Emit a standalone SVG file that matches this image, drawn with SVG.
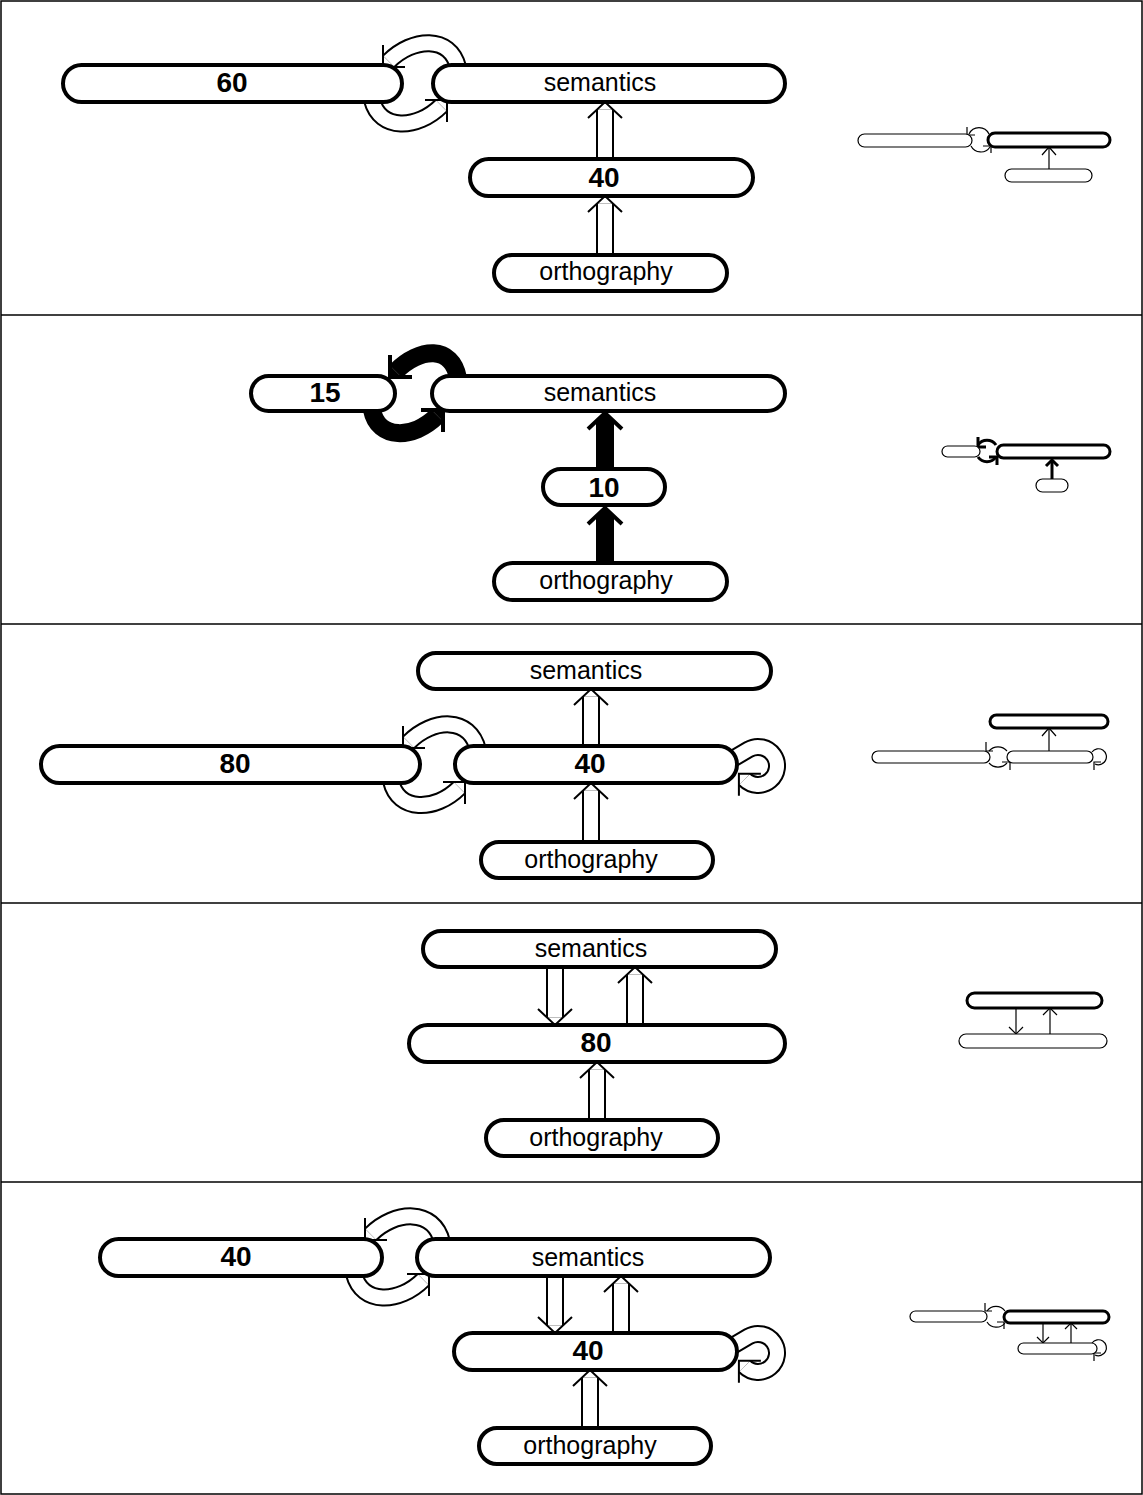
<svg xmlns="http://www.w3.org/2000/svg" width="1143" height="1495" viewBox="0 0 1143 1495">
<style>
.frame{fill:none;stroke:#000;stroke-width:1.5}
.nd{fill:#fff;stroke:#000;stroke-width:4}
.lbl{font-family:"Liberation Sans",Arial,sans-serif;font-size:25px;text-anchor:middle;fill:#000}
.num{font-family:"Liberation Sans",Arial,sans-serif;font-size:28px;font-weight:bold;text-anchor:middle;fill:#000}
.sb{fill:none;stroke:#000;stroke-width:18}
.sw{fill:none;stroke:#fff;stroke-width:14}
.hd{fill:none;stroke:#000;stroke-width:2}
.th{fill:none;stroke:#000;stroke-width:4}
.tf{fill:#000}
.t1{fill:#fff;stroke:#000;stroke-width:1.2}
.t3{fill:#fff;stroke:#000;stroke-width:3}
.tl{fill:none;stroke:#000;stroke-width:1.2}
.tl3{fill:none;stroke:#000;stroke-width:3}
</style>
<rect x="0" y="0" width="1143" height="1495" fill="#fff"/>
<g id="frame">
<rect class="frame" x="1" y="1" width="1141" height="1493"/>
<line class="frame" x1="1" y1="315" x2="1142" y2="315"/>
<line class="frame" x1="1" y1="624" x2="1142" y2="624"/>
<line class="frame" x1="1" y1="903" x2="1142" y2="903"/>
<line class="frame" x1="1" y1="1182" x2="1142" y2="1182"/>
</g>
<g id="connectors">
<!-- panel 1 -->
<g id="p1-40-sem"><path class="sb" d="M605 163V109.5"/><path class="sw" d="M605 163V109.5"/><polyline class="hd" points="588,118 605,102 622,118"/></g>
<g id="p1-orth-40"><path class="sb" d="M605 259V203.5"/><path class="sw" d="M605 259V203.5"/><polyline class="hd" points="588,212 605,196 622,212"/></g>
<g id="p1-sem-60"><path class="sb" d="M458 67C450 35 412.7 37.3 388.7 61.3"/><path class="sw" d="M458 67C450 35 412.7 37.3 388.7 61.3"/><polyline class="hd" points="383,45 383,67 405,67"/></g>
<g id="p1-60-sem"><path class="sb" d="M372 100C380 131 417.3 129.7 441.3 105.7"/><path class="sw" d="M372 100C380 131 417.3 129.7 441.3 105.7"/><polyline class="hd" points="425,100 447,100 447,122"/></g>
<!-- panel 2 -->
<g id="p2-10-sem"><path class="sb" d="M605 473V421"/><polygon class="tf" points="605,413 597,421 613,421"/><polyline class="th" points="588,429 605,413 622,429"/></g>
<g id="p2-orth-10"><path class="sb" d="M605 567V516"/><polygon class="tf" points="605,508 597,516 613,516"/><polyline class="th" points="588,524 605,508 622,524"/></g>
<g id="p2-sem-15"><path class="sb" d="M458 378C452 345 419.7 347.3 395.7 371.3"/><polygon class="tf" points="390,377 401.4,377 390,365.6"/><polyline class="th" points="390,355 390,377 412,377"/></g>
<g id="p2-15-sem"><path class="sb" d="M372 410C378 440 413.3 439.7 437.3 415.7"/><polygon class="tf" points="443,410 431.6,410 443,421.4"/><polyline class="th" points="421,410 443,410 443,432"/></g>
<!-- panel 3 -->
<g id="p3-40-sem"><path class="sb" d="M591 750V696.5"/><path class="sw" d="M591 750V696.5"/><polyline class="hd" points="574,705 591,689 608,705"/></g>
<g id="p3-orth-40"><path class="sb" d="M591 846V790.5"/><path class="sw" d="M591 846V790.5"/><polyline class="hd" points="574,799 591,783 608,799"/></g>
<g id="p3-40-80"><path class="sb" d="M478 750C470 716 432.7 718.3 408.7 742.3"/><path class="sw" d="M478 750C470 716 432.7 718.3 408.7 742.3"/><polyline class="hd" points="403,726 403,748 425,748"/></g>
<g id="p3-80-40"><path class="sb" d="M391 781C398 812 435.3 811.7 459.3 787.7"/><path class="sw" d="M391 781C398 812 435.3 811.7 459.3 787.7"/><polyline class="hd" points="443,782 465,782 465,804"/></g>
<g id="p3-40-self"><path class="sb" d="M729 761L748.5 749.5A19 19 0 1 1 744.6 779.4"/><path class="sw" d="M729 761L748.5 749.5A19 19 0 1 1 744.6 779.4"/><polyline class="hd" points="760.9,773.8 738.9,773.8 738.9,795.8"/></g>
<!-- panel 4 -->
<g id="p4-sem-80"><path class="sb" d="M555 963V1017.5"/><path class="sw" d="M555 963V1017.5"/><polyline class="hd" points="538,1009 555,1025 572,1009"/></g>
<g id="p4-80-sem"><path class="sb" d="M635 1029V974.5"/><path class="sw" d="M635 1029V974.5"/><polyline class="hd" points="618,983 635,967 652,983"/></g>
<g id="p4-orth-80"><path class="sb" d="M597 1124V1069.5"/><path class="sw" d="M597 1124V1069.5"/><polyline class="hd" points="580,1078 597,1062 614,1078"/></g>
<!-- panel 5 -->
<g id="p5-sem-40"><path class="sb" d="M442 1242C434 1208 394.7 1210.3 370.7 1234.3"/><path class="sw" d="M442 1242C434 1208 394.7 1210.3 370.7 1234.3"/><polyline class="hd" points="365,1218 365,1240 387,1240"/></g>
<g id="p5-40-sem"><path class="sb" d="M354 1274C362 1305 399.3 1303.7 423.3 1279.7"/><path class="sw" d="M354 1274C362 1305 399.3 1303.7 423.3 1279.7"/><polyline class="hd" points="407,1274 429,1274 429,1296"/></g>
<g id="p5-sem-40m"><path class="sb" d="M555 1272V1325.5"/><path class="sw" d="M555 1272V1325.5"/><polyline class="hd" points="538,1317 555,1333 572,1317"/></g>
<g id="p5-40m-sem"><path class="sb" d="M621 1337V1283.5"/><path class="sw" d="M621 1337V1283.5"/><polyline class="hd" points="604,1292 621,1276 638,1292"/></g>
<g id="p5-orth-40m"><path class="sb" d="M590 1432V1377.5"/><path class="sw" d="M590 1432V1377.5"/><polyline class="hd" points="573,1386 590,1370 607,1386"/></g>
<g id="p5-40m-self"><path class="sb" d="M729 1348L748.5 1336.5A19 19 0 1 1 744.6 1366.4"/><path class="sw" d="M729 1348L748.5 1336.5A19 19 0 1 1 744.6 1366.4"/><polyline class="hd" points="760.9,1360.8 738.9,1360.8 738.9,1382.8"/></g>
<!-- thumbnails -->
<g id="t1-conn">
<line class="tl" x1="1049" y1="169" x2="1049" y2="147"/><polyline class="tl" points="1042,155 1049,147 1056,155"/>
<path class="tl" d="M989 134A11 11 0 0 0 969 134"/><polyline class="tl" points="967,127 967,135 975,135"/>
<path class="tl" d="M971 146A11 11 0 0 0 990 147"/><polyline class="tl" points="983,146 991,146 991,153"/>
</g>
<g id="t2-conn">
<line class="tl3" x1="1052" y1="479" x2="1052" y2="461"/><polyline class="tl3" points="1046,466 1052,460 1058,466"/>
<path class="tl3" d="M996 445A11 11 0 0 0 978 445"/><polyline class="tl3" points="978,437 978,447 986,447"/>
<path class="tl3" d="M978 457A11 11 0 0 0 996 457"/><polyline class="tl3" points="989,457 997,457 997,465"/>
</g>
<g id="t3-conn">
<line class="tl" x1="1049" y1="751" x2="1049" y2="728"/><polyline class="tl" points="1042,736 1049,728 1056,736"/>
<path class="tl" d="M1007 751A12 12 0 0 0 989 751"/><polyline class="tl" points="986,742 986,751 993,751"/>
<path class="tl" d="M989 763A12 12 0 0 0 1007 763"/><polyline class="tl" points="1002,762 1010,762 1010,770"/>
<path class="tl" d="M1092 752A8 8 0 1 1 1095 764"/><polyline class="tl" points="1101,762 1094,762 1094,770"/>
</g>
<g id="t4-conn">
<line class="tl" x1="1016" y1="1008" x2="1016" y2="1034"/><polyline class="tl" points="1009,1027 1016,1034 1023,1027"/>
<line class="tl" x1="1050" y1="1034" x2="1050" y2="1008"/><polyline class="tl" points="1043,1015 1050,1008 1057,1015"/>
</g>
<g id="t5-conn">
<line class="tl" x1="1043" y1="1323" x2="1043" y2="1343"/><polyline class="tl" points="1037,1337 1043,1343 1049,1337"/>
<line class="tl" x1="1071" y1="1343" x2="1071" y2="1323"/><polyline class="tl" points="1065,1329 1071,1323 1077,1329"/>
<path class="tl" d="M1005 1311A11 11 0 0 0 987 1311"/><polyline class="tl" points="985,1303 985,1311 992,1311"/>
<path class="tl" d="M987 1322A11 11 0 0 0 1005 1323"/><polyline class="tl" points="997,1322 1004,1322 1004,1329"/>
<path class="tl" d="M1092 1343A8 8 0 1 1 1095 1355"/><polyline class="tl" points="1101,1353 1094,1353 1094,1361"/>
</g>
</g>
<!-- panel 1 nodes -->
<g id="p1-n60"><rect class="nd" x="63" y="65" width="339" height="37" rx="18.5"/><text class="num" x="232" y="92">60</text></g>
<g id="p1-sem"><rect class="nd" x="433" y="65" width="352" height="37" rx="18.5"/><text class="lbl" x="600" y="91">semantics</text></g>
<g id="p1-n40"><rect class="nd" x="470" y="159" width="283" height="37" rx="18.5"/><text class="num" x="604" y="187">40</text></g>
<g id="p1-orth"><rect class="nd" x="494" y="255" width="233" height="36" rx="18"/><text class="lbl" x="606" y="280">orthography</text></g>
<!-- panel 2 nodes -->
<g id="p2-n15"><rect class="nd" x="251" y="376" width="144" height="35" rx="17.5"/><text class="num" x="325" y="402">15</text></g>
<g id="p2-sem"><rect class="nd" x="432" y="376" width="353" height="35" rx="17.5"/><text class="lbl" x="600" y="401">semantics</text></g>
<g id="p2-n10"><rect class="nd" x="543" y="469" width="122" height="36" rx="18"/><text class="num" x="604" y="497">10</text></g>
<g id="p2-orth"><rect class="nd" x="494" y="563" width="233" height="37" rx="18.5"/><text class="lbl" x="606" y="589">orthography</text></g>
<!-- panel 3 nodes -->
<g id="p3-sem"><rect class="nd" x="418" y="653" width="353" height="36" rx="18"/><text class="lbl" x="586" y="679">semantics</text></g>
<g id="p3-n80"><rect class="nd" x="41" y="746" width="379" height="37" rx="18.5"/><text class="num" x="235" y="773">80</text></g>
<g id="p3-n40"><rect class="nd" x="455" y="746" width="282" height="37" rx="18.5"/><text class="num" x="590" y="773">40</text></g>
<g id="p3-orth"><rect class="nd" x="481" y="842" width="232" height="36" rx="18"/><text class="lbl" x="591" y="868">orthography</text></g>
<!-- panel 4 nodes -->
<g id="p4-sem"><rect class="nd" x="423" y="931" width="353" height="36" rx="18"/><text class="lbl" x="591" y="957">semantics</text></g>
<g id="p4-n80"><rect class="nd" x="409" y="1025" width="376" height="37" rx="18.5"/><text class="num" x="596" y="1052">80</text></g>
<g id="p4-orth"><rect class="nd" x="486" y="1120" width="232" height="36" rx="18"/><text class="lbl" x="596" y="1146">orthography</text></g>
<!-- panel 5 nodes -->
<g id="p5-n40a"><rect class="nd" x="100" y="1239" width="282" height="37" rx="18.5"/><text class="num" x="236" y="1266">40</text></g>
<g id="p5-sem"><rect class="nd" x="417" y="1239" width="353" height="37" rx="18.5"/><text class="lbl" x="588" y="1266">semantics</text></g>
<g id="p5-n40b"><rect class="nd" x="454" y="1333" width="283" height="37" rx="18.5"/><text class="num" x="588" y="1360">40</text></g>
<g id="p5-orth"><rect class="nd" x="479" y="1428" width="232" height="36" rx="18"/><text class="lbl" x="590" y="1454">orthography</text></g>
<!-- thumbnails -->
<g id="t1-nodes"><rect class="t1" x="858" y="134" width="114" height="13" rx="6.5"/><rect class="t3" x="988" y="133" width="122" height="14" rx="7"/><rect class="t1" x="1005" y="169" width="87" height="13" rx="6.5"/></g>
<g id="t2-nodes"><rect class="t1" x="942" y="446" width="38" height="11" rx="5.5"/><rect class="t3" x="997" y="445" width="113" height="13" rx="6.5"/><rect class="t1" x="1036" y="479" width="32" height="13" rx="6.5"/></g>
<g id="t3-nodes"><rect class="t3" x="990" y="715" width="118" height="13" rx="6.5"/><rect class="t1" x="872" y="751" width="118" height="12" rx="6"/><rect class="t1" x="1007" y="751" width="86" height="12" rx="6"/></g>
<g id="t4-nodes"><rect class="t3" x="967" y="993" width="135" height="15" rx="7.5"/><rect class="t1" x="959" y="1034" width="148" height="14" rx="7"/></g>
<g id="t5-nodes"><rect class="t1" x="910" y="1311" width="77" height="11" rx="5.5"/><rect class="t3" x="1004" y="1311" width="105" height="12" rx="6"/><rect class="t1" x="1018" y="1343" width="79" height="11" rx="5.5"/></g>
</svg>
